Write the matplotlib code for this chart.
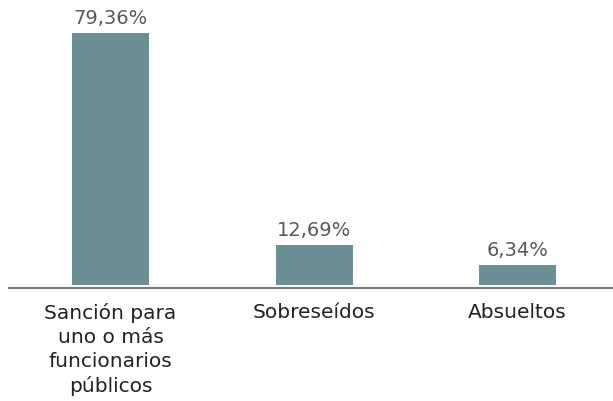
import matplotlib
matplotlib.use("Agg")
import matplotlib.pyplot as plt

categories = ["Sanción para\nuno o más\nfuncionarios\npúblicos", "Sobreseídos", "Absueltos"]
values = [79.36, 12.69, 6.34]
labels = ["79,36%", "12,69%", "6,34%"]

plt.rcParams["font.family"] = ["DejaVu Sans"]

fig = plt.figure(figsize=(6.13, 4.01), dpi=100)
ax = fig.add_axes([9 / 613, 0.2893, 604 / 613, 0.661])

x = range(len(values))
bars = ax.bar(x, values, width=0.378, color="#6a9095")

for b, lab in zip(bars, labels):
    ax.text(b.get_x() + b.get_width() / 2, b.get_height() + 1.6, lab,
            ha="center", va="bottom", fontsize=14, color="#5a5a5a")

# category names under the axis line
for i, cat in enumerate(categories):
    ax.annotate(cat, xy=(i, 0), xycoords=("data", "axes fraction"),
                xytext=(0, -13.2), textcoords="offset points",
                ha="center", va="top", fontsize=14.5, color="#222222",
                linespacing=1.31, annotation_clip=False)

ax.set_xlim(-0.499, 2.469)
ax.set_ylim(0, 83.5)
ax.set_xticks([])
ax.set_yticks([])

for s in ["top", "right", "left"]:
    ax.spines[s].set_visible(False)
ax.spines["bottom"].set_position(("outward", 2.2))
ax.spines["bottom"].set_color("#7a7a7a")
ax.spines["bottom"].set_linewidth(1.5)

fig.savefig("out.png", dpi=100)
